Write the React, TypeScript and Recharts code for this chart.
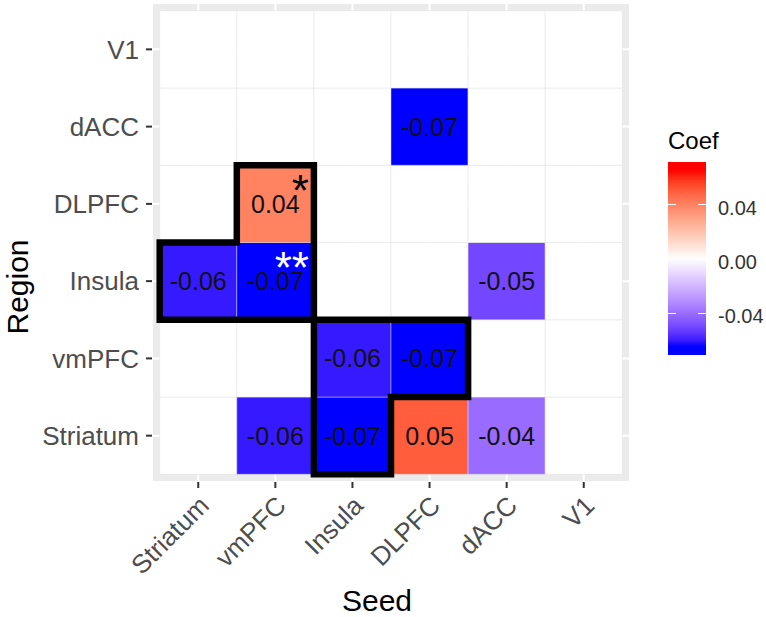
import React from 'react';
import { ScatterChart, Scatter, XAxis, YAxis, CartesianGrid, ReferenceArea } from 'recharts';

const seeds = ['Striatum', 'vmPFC', 'Insula', 'DLPFC', 'dACC', 'V1'];
// regions listed bottom to top
const regions = ['Striatum', 'vmPFC', 'Insula', 'DLPFC', 'dACC', 'V1'];

// coefficient for each seed (same order as seeds); null = blank tile
const striatumCoef = [null, -0.06, -0.07, 0.05, -0.04, null];
const vmpfcCoef = [null, null, -0.06, -0.07, null, null];
const insulaCoef = [-0.06, -0.07, null, null, -0.05, null];
const dlpfcCoef = [null, 0.04, null, null, null, null];
const daccCoef = [null, null, null, -0.07, null, null];
const v1Coef = [null, null, null, null, null, null];
const coefRows = [striatumCoef, vmpfcCoef, insulaCoef, dlpfcCoef, daccCoef, v1Coef];

const stars = [
  { seed: 'vmPFC', region: 'DLPFC', mark: '*', color: '#000' },
  { seed: 'vmPFC', region: 'Insula', mark: '**', color: '#fff' },
];

// outlined clusters, corners in seed / region index units
const clusterA = [
  { x: 0.5, y: 3.5 }, { x: 1.5, y: 3.5 }, { x: 1.5, y: 1.5 }, { x: -0.5, y: 1.5 },
  { x: -0.5, y: 2.5 }, { x: 0.5, y: 2.5 }, { x: 0.5, y: 3.5 },
];
const clusterB = [
  { x: 1.5, y: 1.5 }, { x: 3.5, y: 1.5 }, { x: 3.5, y: 0.5 }, { x: 2.5, y: 0.5 },
  { x: 2.5, y: -0.5 }, { x: 1.5, y: -0.5 }, { x: 1.5, y: 1.5 },
];

const legendTicks = [0.04, 0, -0.04];

const FONT = '"Liberation Sans", Arial, Helvetica, sans-serif';
const idx = [0, 1, 2, 3, 4, 5];

// ---- colour scale (white mid, blue low, red high, Lab interpolation) ----
const toLin = (c: number) => {
  c /= 255;
  return c <= 0.04045 ? c / 12.92 : Math.pow((c + 0.055) / 1.055, 2.4);
};
const fromLin = (c: number) => {
  const v = c <= 0.0031308 ? 12.92 * c : 1.055 * Math.pow(Math.max(c, 0), 1 / 2.4) - 0.055;
  return Math.round(Math.max(0, Math.min(1, v)) * 255);
};
const rgbToLab = (rgb: number[]) => {
  const [R, G, B] = rgb.map(toLin);
  const X = (0.4124 * R + 0.3576 * G + 0.1805 * B) / 0.95047;
  const Y = 0.2126 * R + 0.7152 * G + 0.0722 * B;
  const Z = (0.0193 * R + 0.1192 * G + 0.9505 * B) / 1.08883;
  const f = (t: number) => (t > 0.008856 ? Math.cbrt(t) : 7.787 * t + 16 / 116);
  const fx = f(X), fy = f(Y), fz = f(Z);
  return [116 * fy - 16, 500 * (fx - fy), 200 * (fy - fz)];
};
const labToHex = (lab: number[]) => {
  const [L, a, b] = lab;
  const fy = (L + 16) / 116, fx = fy + a / 500, fz = fy - b / 200;
  const inv = (t: number) => (t * t * t > 0.008856 ? t * t * t : (t - 16 / 116) / 7.787);
  const X = inv(fx) * 0.95047, Y = inv(fy), Z = inv(fz) * 1.08883;
  const r = fromLin(3.2406 * X - 1.5372 * Y - 0.4986 * Z);
  const g = fromLin(-0.9689 * X + 1.8758 * Y + 0.0415 * Z);
  const bl = fromLin(0.0557 * X - 0.204 * Y + 1.057 * Z);
  return '#' + [r, g, bl].map((v) => v.toString(16).padStart(2, '0')).join('');
};
const whiteLab = rgbToLab([255, 255, 255]);
const blueLab = rgbToLab([0, 0, 255]);
const redLab = rgbToLab([255, 0, 0]);
const LIMIT = 0.063;
const colorFor = (v: number) => {
  const t = Math.max(-1, Math.min(1, v / LIMIT));
  const end = t < 0 ? blueLab : redLab;
  const k = Math.abs(t);
  return labToHex(whiteLab.map((w, i) => w + (end[i] - w) * k));
};

// legend geometry
const BAR_X = 668, BAR_W = 38, BAR_TOP = 162, BAR_BOTTOM = 355;
const legendY = (v: number) => 259 - v * 1362;
const legendValueAt = (y: number) => (259 - y) / 1362;
const gradientStops = Array.from({ length: 25 }, (_, i) => {
  const y = BAR_TOP + ((BAR_BOTTOM - BAR_TOP) * i) / 24;
  return { offset: i / 24, color: colorFor(legendValueAt(y)) };
});

const XTick = (props: any) => {
  const { x, y, payload } = props;
  const px = x - 1;
  return (
    <text
      x={px}
      y={y}
      transform={`rotate(-45 ${px} ${y})`}
      textAnchor="end"
      dy="0.72em"
      fontSize={26}
      fill="#4d4d4d"
      fontFamily={FONT}
    >
      {seeds[payload.value]}
    </text>
  );
};

const cellLabel = (text: string | null, star?: { mark: string; color: string }) => (props: any) => {
  const vb = props.viewBox || {};
  const { x, y, width, height } = vb;
  if (x == null) return null;
  return (
    <g fontFamily={FONT}>
      {text && (
        <text
          x={x + width / 2}
          y={y + height / 2}
          textAnchor="middle"
          dominantBaseline="central"
          fontSize={25}
          fill="#111"
        >
          {text}
        </text>
      )}
      {star && (
        <text x={x + width - 5} y={y + 9 + 0.716 * 44} textAnchor="end" fontSize={44} fill={star.color}>
          {star.mark}
        </text>
      )}
    </g>
  );
};

const renderNothing = () => <g />;

export default function App() {
  const cells: React.ReactNode[] = [];
  coefRows.forEach((row, ri) => {
    row.forEach((v, si) => {
      const star = stars.find((s) => s.seed === seeds[si] && s.region === regions[ri]);
      cells.push(
        <ReferenceArea
          key={`c-${ri}-${si}`}
          x1={si - 0.5}
          x2={si + 0.5}
          y1={ri - 0.5}
          y2={ri + 0.5}
          fill={v == null ? '#ffffff' : colorFor(v)}
          fillOpacity={1}
          stroke="rgba(225,225,225,0.45)"
          strokeWidth={1}
          label={v == null && !star ? undefined : cellLabel(v == null ? null : v.toFixed(2), star)}
        />
      );
    });
  });

  return (
    <div style={{ position: 'absolute', left: 0, top: 0, width: 766, height: 617, background: '#fff' }}>
      <ScatterChart
        width={766}
        height={617}
        margin={{ top: 3, right: 136, bottom: 5, left: 2 }}
        style={{ fontFamily: FONT }}
      >
        <CartesianGrid fill="#ebebeb" stroke="#ffffff" strokeWidth={2} />
        <XAxis
          type="number"
          dataKey="x"
          domain={[-0.6, 5.6]}
          ticks={idx}
          interval={0}
          height={130}
          axisLine={false}
          tickLine={{ stroke: '#333', strokeWidth: 2 }}
          tickSize={6}
          tickMargin={6}
          tick={<XTick />}
        />
        <YAxis
          type="number"
          dataKey="y"
          domain={[-0.6, 5.6]}
          ticks={idx}
          interval={0}
          width={150}
          axisLine={false}
          tickLine={{ stroke: '#333', strokeWidth: 2 }}
          tickSize={6}
          tickMargin={7}
          tickFormatter={(i: number) => regions[i]}
          tick={{ fill: '#4d4d4d', fontSize: 26, fontFamily: FONT }}
        />
        {cells}
        <Scatter
          data={clusterA}
          shape={renderNothing}
          line={{ stroke: '#000', strokeWidth: 6.5, fill: 'none', strokeLinecap: 'square', strokeLinejoin: 'miter' }}
          isAnimationActive={false}
          legendType="none"
        />
        <Scatter
          data={clusterB}
          shape={renderNothing}
          line={{ stroke: '#000', strokeWidth: 6.5, fill: 'none', strokeLinecap: 'square', strokeLinejoin: 'miter' }}
          isAnimationActive={false}
          legendType="none"
        />
      </ScatterChart>
      <svg
        width={766}
        height={617}
        style={{ position: 'absolute', left: 0, top: 0, pointerEvents: 'none' }}
        fontFamily={FONT}
      >
        <defs>
          <linearGradient id="coefGrad" x1="0" y1="0" x2="0" y2="1">
            {gradientStops.map((s, i) => (
              <stop key={i} offset={s.offset} stopColor={s.color} />
            ))}
          </linearGradient>
        </defs>
        <text x={377} y={611} textAnchor="middle" fontSize={30} fill="#000">
          Seed
        </text>
        <text x={28} y={287} transform="rotate(-90 28 287)" textAnchor="middle" fontSize={30} fill="#000">
          Region
        </text>
        <text x={BAR_X} y={149} fontSize={24} fill="#000">
          Coef
        </text>
        <rect x={BAR_X} y={BAR_TOP} width={BAR_W} height={BAR_BOTTOM - BAR_TOP} fill="url(#coefGrad)" />
        {legendTicks.map((t) => (
          <g key={t}>
            <line x1={BAR_X} x2={BAR_X + 8} y1={legendY(t)} y2={legendY(t)} stroke="#fff" strokeWidth={1} />
            <line
              x1={BAR_X + BAR_W - 8}
              x2={BAR_X + BAR_W}
              y1={legendY(t)}
              y2={legendY(t)}
              stroke="#fff"
              strokeWidth={1}
            />
            <text x={718} y={legendY(t) + 3} dominantBaseline="central" fontSize={20} fill="#333">
              {t.toFixed(2)}
            </text>
          </g>
        ))}
      </svg>
    </div>
  );
}
